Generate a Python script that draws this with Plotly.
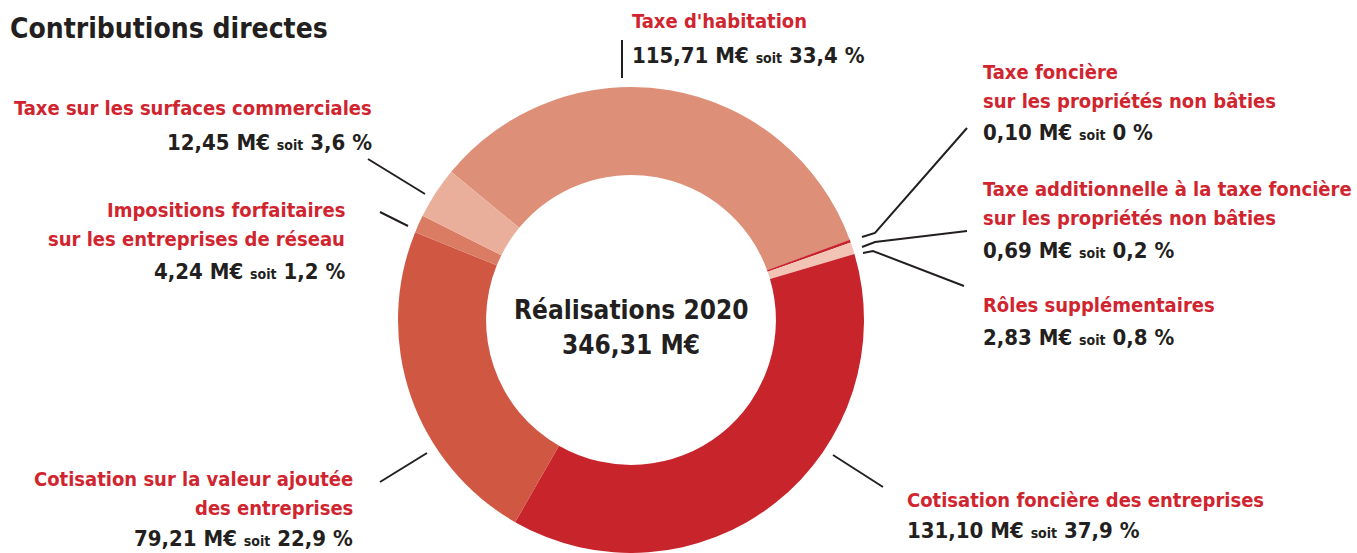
import plotly.graph_objects as go

W, H = 1357, 553

# slices, clockwise from the top-left edge of "Taxe d'habitation"
labels = [
    "Taxe d'habitation",
    "Taxe foncière sur les propriétés non bâties",
    "Taxe additionnelle à la taxe foncière sur les propriétés non bâties",
    "Rôles supplémentaires",
    "Cotisation foncière des entreprises",
    "Cotisation sur la valeur ajoutée des entreprises",
    "Impositions forfaitaires sur les entreprises de réseau",
    "Taxe sur les surfaces commerciales",
]
values = [115.71, 0.10, 0.69, 2.83, 131.10, 79.21, 4.24, 12.45]
pcts = ["33,4", "0", "0,2", "0,8", "37,9", "22,9", "1,2", "3,6"]
amounts = ["115,71", "0,10", "0,69", "2,83", "131,10", "79,21", "4,24", "12,45"]
colors = ["#DE8F78", "#C8242C", "#C8242C", "#F2C4B6",
          "#C8242C", "#D05843", "#DA7B64", "#E9AF9A"]

# label captions, line by line
captions = [
    ["Taxe d'habitation"],
    ["Taxe foncière", "sur les propriétés non bâties"],
    ["Taxe additionnelle à la taxe foncière", "sur les propriétés non bâties"],
    ["Rôles supplémentaires"],
    ["Cotisation foncière des entreprises"],
    ["Cotisation sur la valeur ajoutée", "des entreprises"],
    ["Impositions forfaitaires", "sur les entreprises de réseau"],
    ["Taxe sur les surfaces commerciales"],
]

total_text = "346,31 M€"

# label layout in pixels: anchor side, x, first caption line y, value line y
label_pos = [
    ("left", 630, 21, 55),
    ("left", 981, 72, 133),
    ("left", 981, 189, 250),
    ("left", 981, 305, 337),
    ("left", 905, 500, 530),
    ("right", 355, 479, 538),
    ("right", 347, 210, 272),
    ("right", 374, 108, 142),
]
LINE_GAP = 29

# leader lines in pixels
leaders = [
    [(622, 40), (622, 78)],
    [(967, 128), (875, 233), (862, 237)],
    [(967, 231), (875, 242), (862, 247)],
    [(964, 286), (873, 251), (863, 253)],
    [(833, 455), (883, 487)],
    [(380, 482), (427, 453)],
    [(380, 212), (408, 226)],
    [(368, 159), (425, 194)],
]

FONT = "DejaVu Sans Condensed, Roboto, sans-serif"
RED = "#D0252F"
DARK = "#231F20"


def px(x):
    return x / W


def py(y):
    return 1 - y / H


# pie placement: centre (631, 320), radius 233
cx, cy, r = 631, 320, 233

fig = go.Figure(go.Pie(
    labels=labels,
    values=values,
    sort=False,
    direction="clockwise",
    rotation=-50.5,
    hole=0.622,
    marker=dict(colors=colors, line=dict(width=0)),
    textinfo="none",
    hoverinfo="label+value+percent",
    domain=dict(x=[px(cx - r), px(cx + r)], y=[py(cy + r), py(cy - r)]),
))

annotations = [
    dict(text="<b>Contributions directes</b>", x=px(8), y=py(29),
         xanchor="left", yanchor="middle", showarrow=False,
         font=dict(family=FONT, size=28, color=DARK)),
    dict(text="<b>Réalisations 2020</b>", x=px(cx), y=py(310),
         xanchor="center", yanchor="middle", showarrow=False,
         font=dict(family=FONT, size=26, color=DARK)),
    dict(text="<b>" + total_text + "</b>", x=px(cx), y=py(345),
         xanchor="center", yanchor="middle", showarrow=False,
         font=dict(family=FONT, size=26, color=DARK)),
]

for cap, amt, pct, (side, x, ycap, yval) in zip(captions, amounts, pcts, label_pos):
    for i, line in enumerate(cap):
        annotations.append(dict(
            text="<b>" + line + "</b>", x=px(x), y=py(ycap + i * LINE_GAP),
            xanchor=side, yanchor="middle", showarrow=False,
            font=dict(family=FONT, size=20, color=RED)))
    annotations.append(dict(
        text="<b>" + amt + " M€ <span style='font-size:14px'>soit</span> " + pct + " %</b>",
        x=px(x), y=py(yval), xanchor=side, yanchor="middle",
        showarrow=False, font=dict(family=FONT, size=22, color=DARK)))

shapes = []
for pts in leaders:
    path = "M " + " L ".join(f"{px(a)},{py(b)}" for a, b in pts)
    shapes.append(dict(type="path", xref="paper", yref="paper", path=path,
                       line=dict(color=DARK, width=2)))

fig.update_layout(
    width=W, height=H,
    margin=dict(l=0, r=0, t=0, b=0),
    paper_bgcolor="white",
    showlegend=False,
    annotations=annotations,
    shapes=shapes,
)

# drop the default page margin so the figure sits at the window's corner
fig.write_html("out.html", config={"displayModeBar": False},
               post_script="document.body.style.margin='0';")
